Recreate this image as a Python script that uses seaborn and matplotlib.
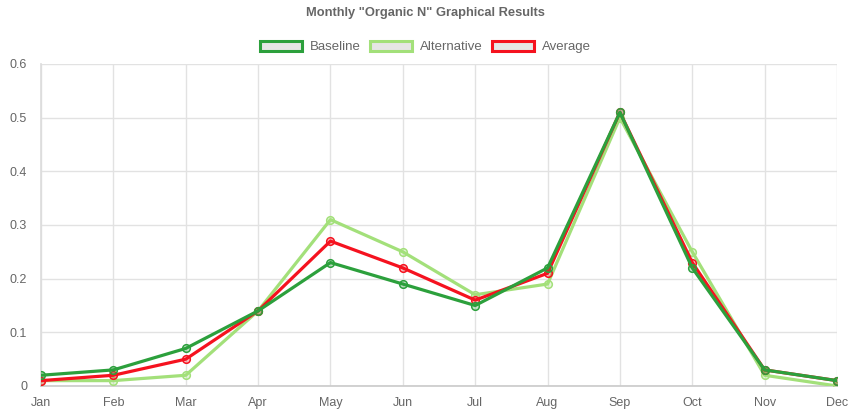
import matplotlib
matplotlib.use("Agg")
import matplotlib.pyplot as plt
from matplotlib.patches import Patch
import seaborn as sns
import pandas as pd

months = ["Jan", "Feb", "Mar", "Apr", "May", "Jun", "Jul", "Aug", "Sep", "Oct", "Nov", "Dec"]
baseline = [0.02, 0.03, 0.07, 0.14, 0.23, 0.19, 0.15, 0.22, 0.51, 0.22, 0.03, 0.01]
alternative = [0.01, 0.01, 0.02, 0.14, 0.31, 0.25, 0.17, 0.19, 0.50, 0.25, 0.02, 0.00]
average = [0.01, 0.02, 0.05, 0.14, 0.27, 0.22, 0.16, 0.21, 0.51, 0.23, 0.03, 0.01]
y_ticks = [0, 0.1, 0.2, 0.3, 0.4, 0.5, 0.6]
y_tick_labels = ["0", "0.1", "0.2", "0.3", "0.4", "0.5", "0.6"]

sns.set_theme(style="white")
plt.rcParams["font.family"] = ["Liberation Sans", "DejaVu Sans"]

text_color = "#666666"
grid_color = "#e2e2e2"

series = [
    ("Alternative", alternative, "#a3e07a"),
    ("Average", average, "#f5121f"),
    ("Baseline", baseline, "#2ca03c"),
]

fig = plt.figure(figsize=(8.51, 4.13), dpi=100)
ax = fig.add_axes([41 / 851, 27 / 413, (837 - 41) / 851, (386 - 64) / 413])

x = list(range(len(months)))
for name, vals, color in series:
    df = pd.DataFrame({"month": x, "value": vals})
    sns.lineplot(data=df, x="month", y="value", ax=ax, color=color, linewidth=2.3,
                 marker="o", markersize=5.5, markerfacecolor=color + "44",
                 markeredgecolor=color, markeredgewidth=1.1, zorder=3)

ax.set_xlim(0, len(months) - 1)
ax.set_ylim(0, 0.6)
ax.set_xticks(x)
ax.set_xticklabels(months)
ax.set_yticks(y_ticks)
ax.set_yticklabels(y_tick_labels)
ax.set_xlabel("")
ax.set_ylabel("")
ax.grid(True, color=grid_color, linewidth=1)
ax.set_axisbelow(True)
for side in ["top", "right"]:
    ax.spines[side].set_visible(False)
ax.spines["left"].set_color("#dddddd")
ax.spines["bottom"].set_color("#cccccc")
ax.tick_params(axis="both", colors=text_color, labelsize=9, length=0, pad=8)
ax.tick_params(axis="y", pad=10)

fig.text(0.5, 1 - 13 / 413, 'Monthly "Organic N" Graphical Results', ha="center", va="center",
         fontsize=9.3, fontweight="bold", color=text_color)

handles = [Patch(facecolor="#e6e6e6", edgecolor=c, linewidth=2.2, label=n)
           for n, c in [("Baseline", "#2ca03c"), ("Alternative", "#a3e07a"), ("Average", "#f5121f")]]
leg = fig.legend(handles=handles, loc="center", bbox_to_anchor=(0.5, 1 - 47 / 413), ncol=3,
                 frameon=False, fontsize=9.5, handlelength=3.2, handleheight=0.85,
                 handletextpad=0.6, columnspacing=0.7)
for t in leg.get_texts():
    t.set_color(text_color)

fig.savefig("out.png", dpi=100)
